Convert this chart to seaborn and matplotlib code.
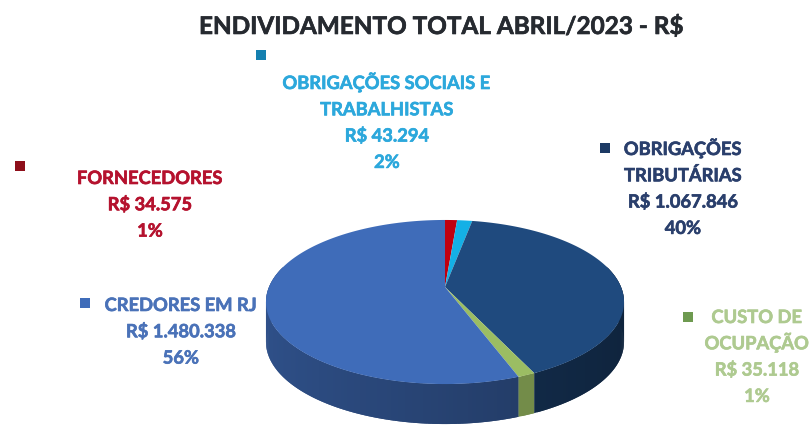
import numpy as np
import matplotlib
matplotlib.use("Agg")
import matplotlib.pyplot as plt
import matplotlib.patheffects as pe
from matplotlib.path import Path
from matplotlib.transforms import Transform
import seaborn as sns

# ---- data ----
categories = [["FORNECEDORES"], ["OBRIGAÇÕES SOCIAIS E", "TRABALHISTAS"], ["OBRIGAÇÕES", "TRIBUTÁRIAS"],
              ["CUSTO DE", "OCUPAÇÃO"], ["CREDORES EM RJ"]]
values = [34575, 43294, 1067846, 35118, 1480338]
value_labels = ["R$ 34.575", "R$ 43.294", "R$ 1.067.846", "R$ 35.118", "R$ 1.480.338"]
pct_labels = ["1%", "2%", "40%", "1%", "56%"]
title = "ENDIVIDAMENTO TOTAL ABRIL/2023 - R$"

slice_colors = ["#C00010", "#14B0E6", "#1F4A7E", "#9BBD63", "#3F6CB9"]
text_colors = ["#B5122E", "#2CA8DC", "#2A3F6C", "#AECA90", "#4A72B8"]
marker_colors = ["#8E0F1A", "#1580B0", "#1C3A64", "#6E9A50", "#3F6CB9"]

label_x = [150, 387, 683, 757, 181]
label_top = [179, 84, 150, 318, 306]
marker_xy = [(20, 167), (261, 56), (605, 149), (688, 318), (85, 304)]

sns.set_theme(style="white")
plt.rcParams["font.family"] = ["Lato", "DejaVu Sans"]
palette = sns.color_palette(slice_colors)

W, H = 811, 427
CX, CY = 445.0, 288.0
SX, SY, K = 176.0, 79.3, 0.183
DEPTH = 40.0
LINE_PITCH = 26.3
BASELINE = 6.0


class Perspective(Transform):
    """Tilts the unit-circle pie into the picture plane (y pointing down)."""
    input_dims = output_dims = 2
    is_separable = False
    has_inverse = False

    def transform_non_affine(self, xy):
        xy = np.asarray(xy, dtype=float)
        w = 1 + K * xy[:, 1]
        return np.column_stack([CX + SX * xy[:, 0] / w, CY - SY * xy[:, 1] / w])

    def transform_path_non_affine(self, path):
        # flatten the wedge's curves at a large scale so that they stay smooth
        big = Path(path.vertices * 1000.0, path.codes)
        verts, codes = [], []
        for v, c in big.iter_segments(curves=False, simplify=False):
            verts.append(v / 1000.0)
            codes.append(c)
        return Path(self.transform_non_affine(np.array(verts)), codes)


persp = Perspective()

fig = plt.figure(figsize=(W / 100, H / 100), dpi=100, facecolor="white")
ax = fig.add_axes([0, 0, 1, 1])

# side wall of the cylinder, split along each slice so that it can be shaded
fractions = np.array(values, dtype=float) / np.sum(values)
edges = np.cumsum(np.r_[0, fractions])
for f0, f1, col in reversed(list(zip(edges[:-1], edges[1:], palette))):
    ang = np.radians(90 - 360 * np.linspace(f0, f1, max(3, int((f1 - f0) * 360) + 2)))
    pts = persp.transform_non_affine(np.column_stack([np.cos(ang), np.sin(ang)]))
    for i in range(len(ang) - 1):
        if np.sin(ang[i]) > 0.25 and np.sin(ang[i + 1]) > 0.25:
            continue
        t = (np.cos(ang[i]) + 1) / 2
        shade = 0.74 - 0.26 * t
        if f1 - f0 < 0.02:
            shade = 0.74  # the thin green slice stays light on the wall
        c = tuple(v * shade for v in col)
        # each strip reaches under its neighbour so no seams show between them
        j = max(i - 1, 0)
        xs = [pts[j, 0], pts[i + 1, 0], pts[i + 1, 0], pts[j, 0]]
        ys = [pts[j, 1], pts[i + 1, 1], pts[i + 1, 1] + DEPTH, pts[j, 1] + DEPTH]
        ax.fill(xs, ys, color=c, lw=0, zorder=1)

# top surface of the pie
wedges, _ = ax.pie(values, colors=palette, startangle=90, counterclock=False,
                   wedgeprops=dict(linewidth=0))
for w in wedges:
    w.set_transform(persp + ax.transData)
    w.set_zorder(2)

ax.set_aspect("auto")
ax.set_xlim(0, W)
ax.set_ylim(H, 0)
ax.axis("off")

heavy = lambda col: [pe.withStroke(linewidth=0.45, foreground=col)]

ax.text(441, 28 + 7, title, ha="center", va="baseline", fontsize=17.5, fontweight="bold",
        color="#262A30", path_effects=heavy("#262A30"))

for cat, val, pct, x, top, col in zip(categories, value_labels, pct_labels, label_x, label_top, text_colors):
    for i, line in enumerate(cat + [val, pct]):
        ax.text(x, top + i * LINE_PITCH + BASELINE, line, ha="center", va="baseline", fontsize=13.2,
                fontweight="bold", color=col, path_effects=heavy(col))

for (x, y), col in zip(marker_xy, marker_colors):
    ax.scatter([x], [y], marker="s", s=52, color=col, linewidths=0, zorder=3)

fig.savefig("out.png", dpi=100, facecolor="white")
